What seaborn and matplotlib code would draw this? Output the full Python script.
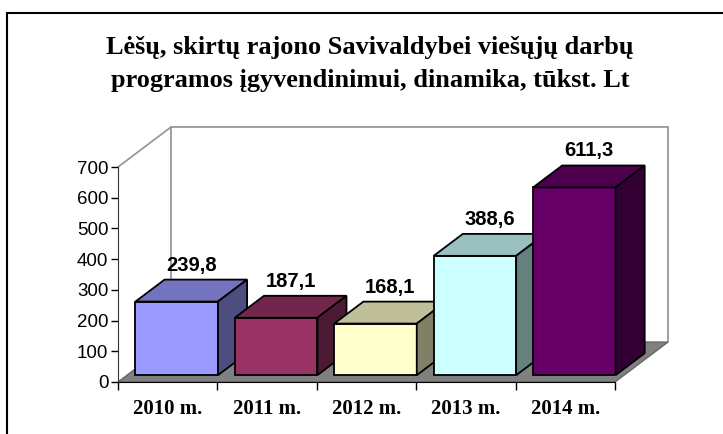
import matplotlib
matplotlib.use('Agg')
import matplotlib.pyplot as plt
import seaborn as sns
from matplotlib.patches import Polygon, Rectangle
from matplotlib.lines import Line2D

# duomenys
metai = ['2010 m.', '2011 m.', '2012 m.', '2013 m.', '2014 m.']
lesos = [239.8, 187.1, 168.1, 388.6, 611.3]
spalvos = ['#9999FF', '#993366', '#FFFFCC', '#CCFFFF', '#660066']
pavadinimas = ['Lėšų, skirtų rajono Savivaldybei viešųjų darbų',
               'programos įgyvendinimui, dinamika, tūkst. Lt']


def tamsiau(c, k):
    r, g, b = matplotlib.colors.to_rgb(c)
    return (r * k, g * k, b * k)


sns.set_style('white')
plt.rcParams['font.family'] = ['Liberation Sans', 'DejaVu Sans']
plt.rcParams['text.color'] = 'black'

fig = plt.figure(figsize=(7.23, 4.34), dpi=100)
ax = fig.add_axes([118 / 723, 52 / 434, 497 / 723, 215 / 434])

# remelis
fig.add_artist(Line2D([7 / 723, 7 / 723], [0, 1 - 13 / 434], transform=fig.transFigure,
                      color='black', linewidth=1.5))
fig.add_artist(Line2D([7 / 723, 1], [1 - 13 / 434, 1 - 13 / 434], transform=fig.transFigure,
                      color='black', linewidth=1.5))

sns.barplot(x=metai, y=lesos, hue=metai, palette=spalvos, legend=False, width=0.83,
            saturation=1, edgecolor='black', linewidth=1.3, ax=ax)

ax.set_xlim(-0.5, 4.5)
ax.set_ylim(0, 700)

# 3D gylis (duomenu vienetais)
WX, WY = 0.533, 130.0      # sienos gylis
f0 = 0.17                   # stulpeliu priekis
fb = 0.55                   # stulpelio gylis
fx, fy = f0 * WX, f0 * WY
bx, by = fb * WX, fb * WY

# grindys ir siena
x0, x1 = -0.5, 4.5
ax.add_patch(Polygon([(x0, 0), (x1, 0), (x1 + WX, WY), (x0 + WX, WY)], closed=True,
                     facecolor='#808080', edgecolor='#666666', linewidth=1, zorder=1, clip_on=False))
siena = dict(color='#999999', linewidth=1.3, zorder=0.5, clip_on=False)
ax.plot([x0, x0 + WX], [700, 700 + WY], **siena)
ax.plot([x0 + WX, x1 + WX], [700 + WY, 700 + WY], **siena)
ax.plot([x1 + WX, x1 + WX], [700 + WY, WY], **siena)
ax.plot([x0 + WX, x0 + WX], [700 + WY, WY], **siena)

bars = [p for p in ax.patches if isinstance(p, Rectangle) and p.get_height() > 0][:len(lesos)]
for i, p in enumerate(bars):
    p.set_x(p.get_x() + fx)
    p.set_y(fy)
    p.set_zorder(3 + i)
    xl, w, h = p.get_x(), p.get_width(), p.get_height()
    yt = fy + h
    c = spalvos[i]
    top = [(xl, yt), (xl + w, yt), (xl + w + bx, yt + by), (xl + bx, yt + by)]
    side = [(xl + w, fy), (xl + w + bx, fy + by), (xl + w + bx, yt + by), (xl + w, yt)]
    ax.add_patch(Polygon(top, closed=True, facecolor=tamsiau(c, 0.75), edgecolor='black',
                         linewidth=1.3, zorder=3 + i, clip_on=False))
    ax.add_patch(Polygon(side, closed=True, facecolor=tamsiau(c, 0.5), edgecolor='black',
                         linewidth=1.3, zorder=3 + i, clip_on=False))
    ax.annotate(f'{lesos[i]:.1f}'.replace('.', ','), xy=(xl + w / 2 + bx / 2, yt + by),
                xytext=(0, 9), textcoords='offset pixels', ha='center', va='baseline',
                fontsize=14.5, fontweight='bold', zorder=10, annotation_clip=False)

# asys
for s in ['top', 'right']:
    ax.spines[s].set_visible(False)
ax.spines['left'].set_color('#333333')
ax.spines['bottom'].set_color('black')
ax.spines['left'].set_zorder(2)
ax.spines['bottom'].set_zorder(2)
ax.set_yticks(range(0, 701, 100))
ax.tick_params(axis='y', left=True, length=5, width=1, labelsize=13.5, pad=2, colors='black')
ax.set_xticks(range(5))
ax.set_xticklabels(metai, fontfamily='Liberation Serif', fontweight='bold', fontsize=15)
ax.tick_params(axis='x', bottom=True, length=0, pad=12, labelcolor='black')
ax.set_xticks([x0 + k for k in range(6)], minor=True)
ax.tick_params(axis='x', which='minor', bottom=True, length=6, width=1, color='black')
ax.set_xlabel('')
ax.set_ylabel('')
ax.patch.set_alpha(0)

for eil, yb in zip(pavadinimas, [54, 87]):
    fig.text(370 / 723, 1 - yb / 434, eil, ha='center', va='baseline',
             fontfamily='Liberation Serif', fontweight='bold', fontsize=18.9)

fig.savefig('out.png', dpi=100)
